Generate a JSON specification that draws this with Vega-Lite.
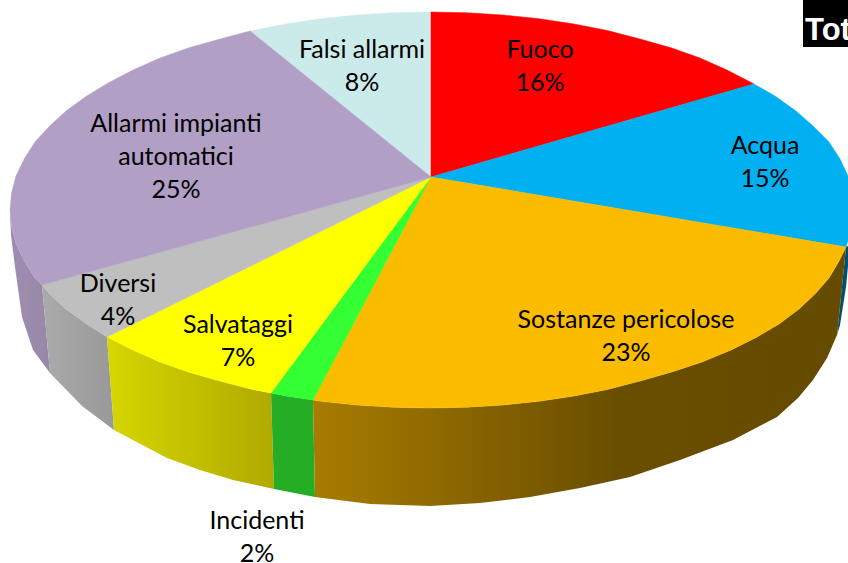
{"$schema":"https://vega.github.io/schema/vega-lite/v6.json","width":848,"height":563,"padding":0,"autosize":{"type":"none"},"background":"white","view":{"stroke":null},"projection":{"type":"identity","scale":1,"translate":[0,0]},
"datasets":{
"top":[
{"type":"Feature","name":"Falsi allarmi","pct":8,"geometry":{"type":"Polygon","coordinates":[[[431,177],[250,31],[286,24],[321,18.7],[357,15],[393,12.8],[431,12],[431,177]]]}},
{"type":"Feature","name":"Fuoco","pct":16,"geometry":{"type":"Polygon","coordinates":[[[431,177],[431,12],[467,12.8],[503,15],[539,18.7],[574,24],[607.5,30.6],[640,39],[671,47.8],[700,58],[727,70],[754,84],[431,177]]]}},
{"type":"Feature","name":"Acqua","pct":15,"geometry":{"type":"Polygon","coordinates":[[[431,177],[754,84],[775,96],[796,111],[813,126],[829,142],[840,159],[848,176],[853,192],[853,210],[852,227],[846,247],[431,177]]]}},
{"type":"Feature","name":"Sostanze pericolose","pct":23,"geometry":{"type":"Polygon","coordinates":[[[431,177],[846,247],[839,261],[829,278],[815,294],[799,309],[779,324],[757,337],[731,350],[702,362],[671,372.2],[640,381],[607.5,389.4],[574,396],[539,401.3],[503,405],[467,407.2],[430,408],[393,407.2],[357,405],[321,401.3],[313,400],[431,177]]]}},
{"type":"Feature","name":"Incidenti","pct":2,"geometry":{"type":"Polygon","coordinates":[[[431,177],[313,400],[286,396],[271,393],[431,177]]]}},
{"type":"Feature","name":"Salvataggi","pct":7,"geometry":{"type":"Polygon","coordinates":[[[431,177],[271,393],[252.5,389.4],[220,381],[189,372.2],[160,362],[133,350],[107,337],[431,177]]]}},
{"type":"Feature","name":"Diversi","pct":4,"geometry":{"type":"Polygon","coordinates":[[[431,177],[107,337],[86,323.6],[66,309],[49.4,293.7],[42,285],[431,177]]]}},
{"type":"Feature","name":"Allarmi impianti automatici","pct":25,"geometry":{"type":"Polygon","coordinates":[[[431,177],[42,285],[35,278],[24.3,261.2],[16,244],[11.6,227.3],[10,210],[11.6,192.7],[16,176],[24.3,158.8],[35,142],[49.4,126.3],[66,111],[86,96.4],[108,83],[133,70],[160,58],[189,47.8],[220,39],[250,31],[431,177]]]}}
],
"sides":[
{"type":"Feature","name":"Allarmi impianti automatici","geometry":{"type":"Polygon","coordinates":[[[10,210],[11.6,227.3],[16,244],[24.3,261.2],[35,278],[42,285],[50,373],[33,350],[22,317],[15,267],[11,235],[10,210]]]}},
{"type":"Feature","name":"Diversi","geometry":{"type":"Polygon","coordinates":[[[42,285],[49.4,293.7],[66,309],[86,323.6],[107,337],[114,430],[82,406],[50,373],[42,285]]]}},
{"type":"Feature","name":"Salvataggi","geometry":{"type":"Polygon","coordinates":[[[107,337],[133,350],[160,362],[189,372.2],[220,381],[252.5,389.4],[271,393],[274,489],[233,480],[200,470],[167,458],[114,430],[107,337]]]}},
{"type":"Feature","name":"Incidenti","geometry":{"type":"Polygon","coordinates":[[[271,393],[286,396],[313,400],[315,497],[274,489],[271,393]]]}},
{"type":"Feature","name":"Acqua","geometry":{"type":"Polygon","coordinates":[[[846,247],[849,245],[849,255],[846,287],[840,325],[837,335],[846,247]]]}},
{"type":"Feature","name":"Sostanze pericolose","geometry":{"type":"Polygon","coordinates":[[[313,400],[321,401.3],[357,405],[393,407.2],[430,408],[467,407.2],[503,405],[539,401.3],[574,396],[607.5,389.4],[640,381],[671,372.2],[702,362],[731,350],[757,337],[779,324],[799,309],[815,294],[829,278],[839,261],[846,247],[842,287],[837,335],[827,358],[813,380],[798,398],[777,417],[733,440],[680,460],[630,477],[580,488],[530,497],[480,503],[430,506],[370,504],[315,497],[313,400]]]}}
],
"box":[{"type":"Feature","name":"Tot","geometry":{"type":"Polygon","coordinates":[[[803,0],[849,0],[849,47],[803,47],[803,0]]]}}],
"labels":[
{"label":"Falsi allarmi\n8%","lon":362,"lat":50},
{"label":"Fuoco\n16%","lon":540,"lat":50},
{"label":"Acqua\n15%","lon":765,"lat":146},
{"label":"Sostanze pericolose\n23%","lon":626,"lat":320},
{"label":"Salvataggi\n7%","lon":238,"lat":325},
{"label":"Diversi\n4%","lon":118,"lat":284},
{"label":"Allarmi impianti\nautomatici\n25%","lon":176,"lat":124},
{"label":"Incidenti\n2%","lon":257,"lat":521}
],
"boxlabel":[{"label":"Tot","lon":805,"lat":40}]
},
"layer":[
{"data":{"name":"sides"},"transform":[{"filter":"datum.name == 'Allarmi impianti automatici'"}],"mark":{"type":"geoshape","fill":{"gradient":"linear","x1":0,"y1":0,"x2":1,"y2":0,"stops":[{"offset":0,"color":"#9e8db0"},{"offset":1,"color":"#9888a6"}]},"stroke":null}},
{"data":{"name":"sides"},"transform":[{"filter":"datum.name == 'Diversi'"}],"mark":{"type":"geoshape","fill":{"gradient":"linear","x1":0,"y1":0,"x2":1,"y2":0,"stops":[{"offset":0,"color":"#aaaaaa"},{"offset":1,"color":"#999999"}]},"stroke":null}},
{"data":{"name":"sides"},"transform":[{"filter":"datum.name == 'Salvataggi'"}],"mark":{"type":"geoshape","fill":{"gradient":"linear","x1":0,"y1":0,"x2":1,"y2":0,"stops":[{"offset":0,"color":"#d6d600"},{"offset":1,"color":"#b0aa00"}]},"stroke":null}},
{"data":{"name":"sides"},"transform":[{"filter":"datum.name == 'Incidenti'"}],"mark":{"type":"geoshape","fill":"#26ad26","stroke":null}},
{"data":{"name":"sides"},"transform":[{"filter":"datum.name == 'Acqua'"}],"mark":{"type":"geoshape","fill":"#004f70","stroke":null}},
{"data":{"name":"sides"},"transform":[{"filter":"datum.name == 'Sostanze pericolose'"}],"mark":{"type":"geoshape","fill":{"gradient":"linear","x1":0,"y1":0,"x2":1,"y2":0,"stops":[{"offset":0,"color":"#a87c00"},{"offset":0.57,"color":"#6a4e00"},{"offset":1,"color":"#654b00"}]},"stroke":null}},
{"data":{"name":"top"},"mark":{"type":"geoshape","strokeWidth":0.5},"encoding":{"color":{"field":"name","type":"nominal","legend":null,"scale":{"domain":["Fuoco","Acqua","Sostanze pericolose","Incidenti","Salvataggi","Diversi","Allarmi impianti automatici","Falsi allarmi"],"range":["#ff0000","#00b0f0","#fbbc00","#33ff33","#ffff00","#bfbfbf","#b19fc6","#cbeaea"]}},"stroke":{"field":"name","type":"nominal","legend":null,"scale":{"domain":["Fuoco","Acqua","Sostanze pericolose","Incidenti","Salvataggi","Diversi","Allarmi impianti automatici","Falsi allarmi"],"range":["#ff0000","#00b0f0","#fbbc00","#33ff33","#ffff00","#bfbfbf","#b19fc6","#cbeaea"]}}}},
{"data":{"name":"box"},"mark":{"type":"geoshape","fill":"#000000","stroke":null}},
{"data":{"name":"labels"},"mark":{"type":"text","font":"Lato","fontSize":25,"lineHeight":33,"lineBreak":"\n","align":"center","baseline":"middle","color":"#000000"},"encoding":{"longitude":{"field":"lon","type":"quantitative"},"latitude":{"field":"lat","type":"quantitative"},"text":{"field":"label","type":"nominal"}}},
{"data":{"name":"boxlabel"},"mark":{"type":"text","font":"Liberation Sans","fontWeight":"bold","fontSize":31,"align":"left","baseline":"alphabetic","color":"#ffffff"},"encoding":{"longitude":{"field":"lon","type":"quantitative"},"latitude":{"field":"lat","type":"quantitative"},"text":{"field":"label","type":"nominal"}}}
]}
